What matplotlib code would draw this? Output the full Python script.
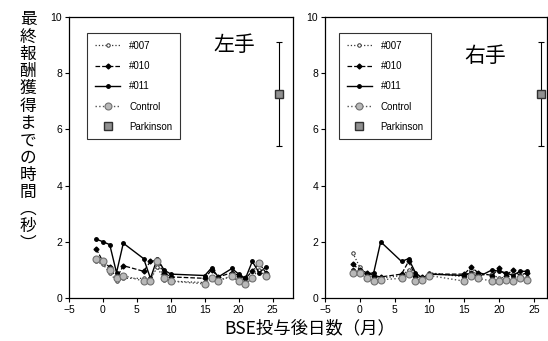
import numpy as np
import matplotlib
matplotlib.use('Agg')
import matplotlib.pyplot as plt

plt.rcParams['font.family'] = ['Liberation Sans', 'Noto Sans CJK JP', 'DejaVu Sans']

# months after BSE dosing
months = [-1, 0, 1, 2, 3, 6, 7, 8, 9, 10, 15, 16, 17, 19, 20, 21, 22, 23, 24]

# left hand
left_007 = [1.3, 1.2, 0.9, 0.6, 0.7, 0.7, 0.65, 1.1, 0.65, 0.6, 0.55, 0.7, 0.65, 0.75, 0.6, 0.6, 0.75, 1.0, 0.75]
left_010 = [1.75, 1.3, 1.1, 0.7, 1.15, 0.95, 1.3, 1.35, 0.9, 0.75, 0.7, 1.0, 0.75, 0.9, 0.8, 0.7, 0.95, 1.25, 0.9]
left_011 = [2.1, 2.0, 1.9, 0.9, 1.95, 1.4, 0.7, 1.4, 1.0, 0.85, 0.8, 1.07, 0.75, 1.05, 0.85, 0.7, 1.3, 0.9, 1.1]
left_ctrl = [1.4, 1.3, 1.0, 0.7, 0.8, 0.6, 0.6, 1.3, 0.7, 0.6, 0.5, 0.7, 0.6, 0.8, 0.6, 0.5, 0.7, 1.25, 0.8]

# right hand
right_007 = [1.6, 1.1, 0.8, 0.75, 0.7, 0.8, 1.0, 0.75, 0.7, 0.9, 0.75, 1.0, 0.8, 0.85, 0.7, 0.75, 0.85, 0.7, 0.75]
right_010 = [1.2, 1.0, 0.9, 0.8, 0.75, 0.85, 1.3, 0.8, 0.75, 0.85, 0.85, 1.1, 0.9, 0.8, 1.05, 0.8, 1.0, 0.8, 0.9]
right_011 = [1.0, 0.9, 0.85, 0.9, 2.0, 1.3, 1.4, 0.9, 0.7, 0.85, 0.8, 0.9, 0.75, 1.0, 0.95, 0.9, 0.8, 0.95, 0.95]
right_ctrl = [0.9, 0.9, 0.7, 0.6, 0.65, 0.7, 0.85, 0.6, 0.65, 0.8, 0.6, 0.8, 0.7, 0.6, 0.6, 0.65, 0.6, 0.7, 0.65]

# Parkinson reference (mean, lower err, upper err)
park_x = 26
park_mean = 7.25
park_err = [[1.85], [1.85]]

W, H = 548, 341
fig = plt.figure(figsize=(W / 100, H / 100), dpi=100)

def box(l, r, t, b):
    return [l / W, 1 - b / H, (r - l) / W, (b - t) / H]

ax1 = fig.add_axes(box(69, 293, 17, 298))
ax2 = fig.add_axes(box(325, 547, 17, 298))

def draw(ax, d007, d010, d011, dctrl, title, tx, ty, xmax, leg_pos):
    l1, = ax.plot(months, d007, ls=':', color='#333333', lw=0.9, marker='o', ms=2.5,
                  mfc='white', mec='#333333', mew=0.7, label='#007')
    l2, = ax.plot(months, d010, ls='--', color='black', lw=0.9, marker='D', ms=2.5,
                  mfc='black', mec='black', label='#010')
    l3, = ax.plot(months, d011, ls='-', color='black', lw=1.0, marker='o', ms=2.5,
                  mfc='black', mec='black', label='#011')
    l4, = ax.plot(months, dctrl, ls=':', color='#555555', lw=1.0, marker='o', ms=5,
                  mfc='#b8b8b8', mec='#707070', mew=0.8, label='Control')
    eb = ax.errorbar([park_x], [park_mean], yerr=park_err, fmt='s', ms=5.5,
                     mfc='#909090', mec='#303030', ecolor='black', elinewidth=0.8,
                     capsize=2.5, capthick=0.8, label='Parkinson')
    ax.set_xlim(-5, xmax)
    ax.set_ylim(0, 10)
    ax.set_xticks([-5, 0, 5, 10, 15, 20, 25])
    ax.set_yticks([0, 2, 4, 6, 8, 10])
    ax.tick_params(direction='out', length=3, width=0.8, labelsize=7.5, pad=2)
    for s in ax.spines.values():
        s.set_linewidth(0.9)
    ax.text(tx, ty, title, fontsize=15, family=['Noto Sans CJK JP'],
            transform=ax.transAxes, ha='center', va='center')
    handles = [l1, l2, l3, l4, eb[0]]
    leg = ax.legend(handles, ['#007', '#010', '#011', 'Control', 'Parkinson'],
                    loc='upper left', bbox_to_anchor=leg_pos, fontsize=7,
                    frameon=True, fancybox=False, edgecolor='black',
                    handlelength=2.6, labelspacing=1.05, borderpad=0.8,
                    handletextpad=0.9)
    leg.get_frame().set_linewidth(0.8)

draw(ax1, left_007, left_010, left_011, left_ctrl, '左手', 0.74, 0.9, 28,
     (0.06, 0.96))
draw(ax2, right_007, right_010, right_011, right_ctrl, '右手', 0.72, 0.86, 26.9,
     (0.04, 0.96))

ylabel = '\n'.join('最終報酬獲得までの時間\ufe35秒\ufe36')
fig.text(28 / W, 1 - 132 / H, ylabel, fontsize=12, family=['Noto Sans CJK JP'],
         ha='center', va='center', linespacing=1.02)
fig.text(310 / W, 1 - 328 / H, 'BSE投与後日数（月）', fontsize=12.5,
         family=['Noto Sans CJK JP'], ha='center', va='center')

fig.savefig('out.png', dpi=100)
